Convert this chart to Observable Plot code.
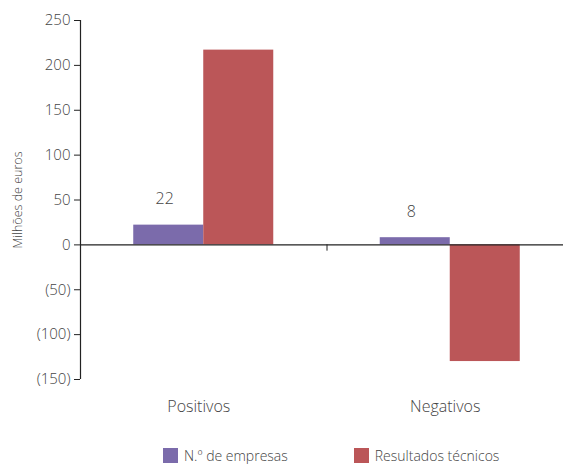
<!DOCTYPE html>
<html><head><meta charset="utf-8">
<script src="https://cdn.jsdelivr.net/npm/d3@7"></script>
<script src="https://cdn.jsdelivr.net/npm/@observablehq/plot@0.6"></script>
<style>
body{margin:0;background:#fff;font-family:"Open Sans",sans-serif;font-weight:300;}
#legend{display:flex;font-size:14px;color:#444;margin-top:16px;padding-left:163px;}
.item{display:flex;align-items:center;}
.sw{width:15px;height:15px;margin-right:6px;}
</style></head><body>
<div id="chart"></div>
<div id="legend"></div>
<script>
const categories = ["Positivos", "Negativos"];
const series = ["N.º de empresas", "Resultados técnicos"];
const empresas = [22, 8];
const resultados = [217, -130];
const yTicks = [-150, -100, -50, 0, 50, 100, 150, 200, 250];
const colors = ["#7b6bab", "#bb5658"];

const barShare = 0.284;
const rows = [];
categories.forEach((c, i) => {
  rows.push({cat: c, i, s: series[0], v: empresas[i], x1: i - barShare, x2: i});
  rows.push({cat: c, i, s: series[1], v: resultados[i], x1: i, x2: i + barShare});
});
const fmt = v => v < 0 ? `(${-v})` : `${v}`;

const plot = Plot.plot({
  width: 563, height: 430,
  marginLeft: 80, marginRight: 0, marginTop: 20, marginBottom: 51,
  style: {fontFamily: "Open Sans, sans-serif", fontSize: "15px", fontWeight: 300, color: "#444"},
  x: {domain: [-0.5, 1.5], range: [80, 573]},
  y: {domain: [-150, 250]},
  color: {domain: series, range: colors},
  marks: [
    Plot.rectY(rows, {x1: "x1", x2: "x2", y1: 0, y2: "v", fill: "s"}),
    Plot.text(rows.filter(d => d.s === series[0]), {x: d => (d.x1 + d.x2) / 2, y: "v", text: d => String(d.v), dy: -26, dx: -4, fontSize: 16, fill: "#444"}),
    Plot.ruleY([0], {stroke: "#222", strokeWidth: 1.2}),
    Plot.ruleX([0.5], {y1: 0, y2: -7, stroke: "#222"}),
    Plot.ruleX([-0.5], {y1: -150, y2: 250, stroke: "#222", strokeWidth: 1.2}),
    Plot.axisY({ticks: yTicks, tickFormat: fmt, tickSize: 6, tickPadding: 4, fontSize: 15, stroke: "#222", label: null}),
    Plot.text(["Milhões de euros"], {frameAnchor: "left", textAnchor: "middle", rotate: -90, dx: -63, fontSize: 12.5, fill: "#444"}),
    Plot.axisX({ticks: [0, 1], tickFormat: i => categories[i], tickSize: 0, tickPadding: 21, dx: -5, fontSize: 16, label: null})
  ]
});
document.getElementById("chart").appendChild(plot);

const leg = document.getElementById("legend");
series.forEach((s, k) => {
  const it = document.createElement("div");
  it.className = "item";
  it.style.marginRight = k === 0 ? "66px" : "0";
  it.innerHTML = `<span class="sw" style="background:${colors[k]}"></span><span>${s}</span>`;
  leg.appendChild(it);
});
</script></body></html>
